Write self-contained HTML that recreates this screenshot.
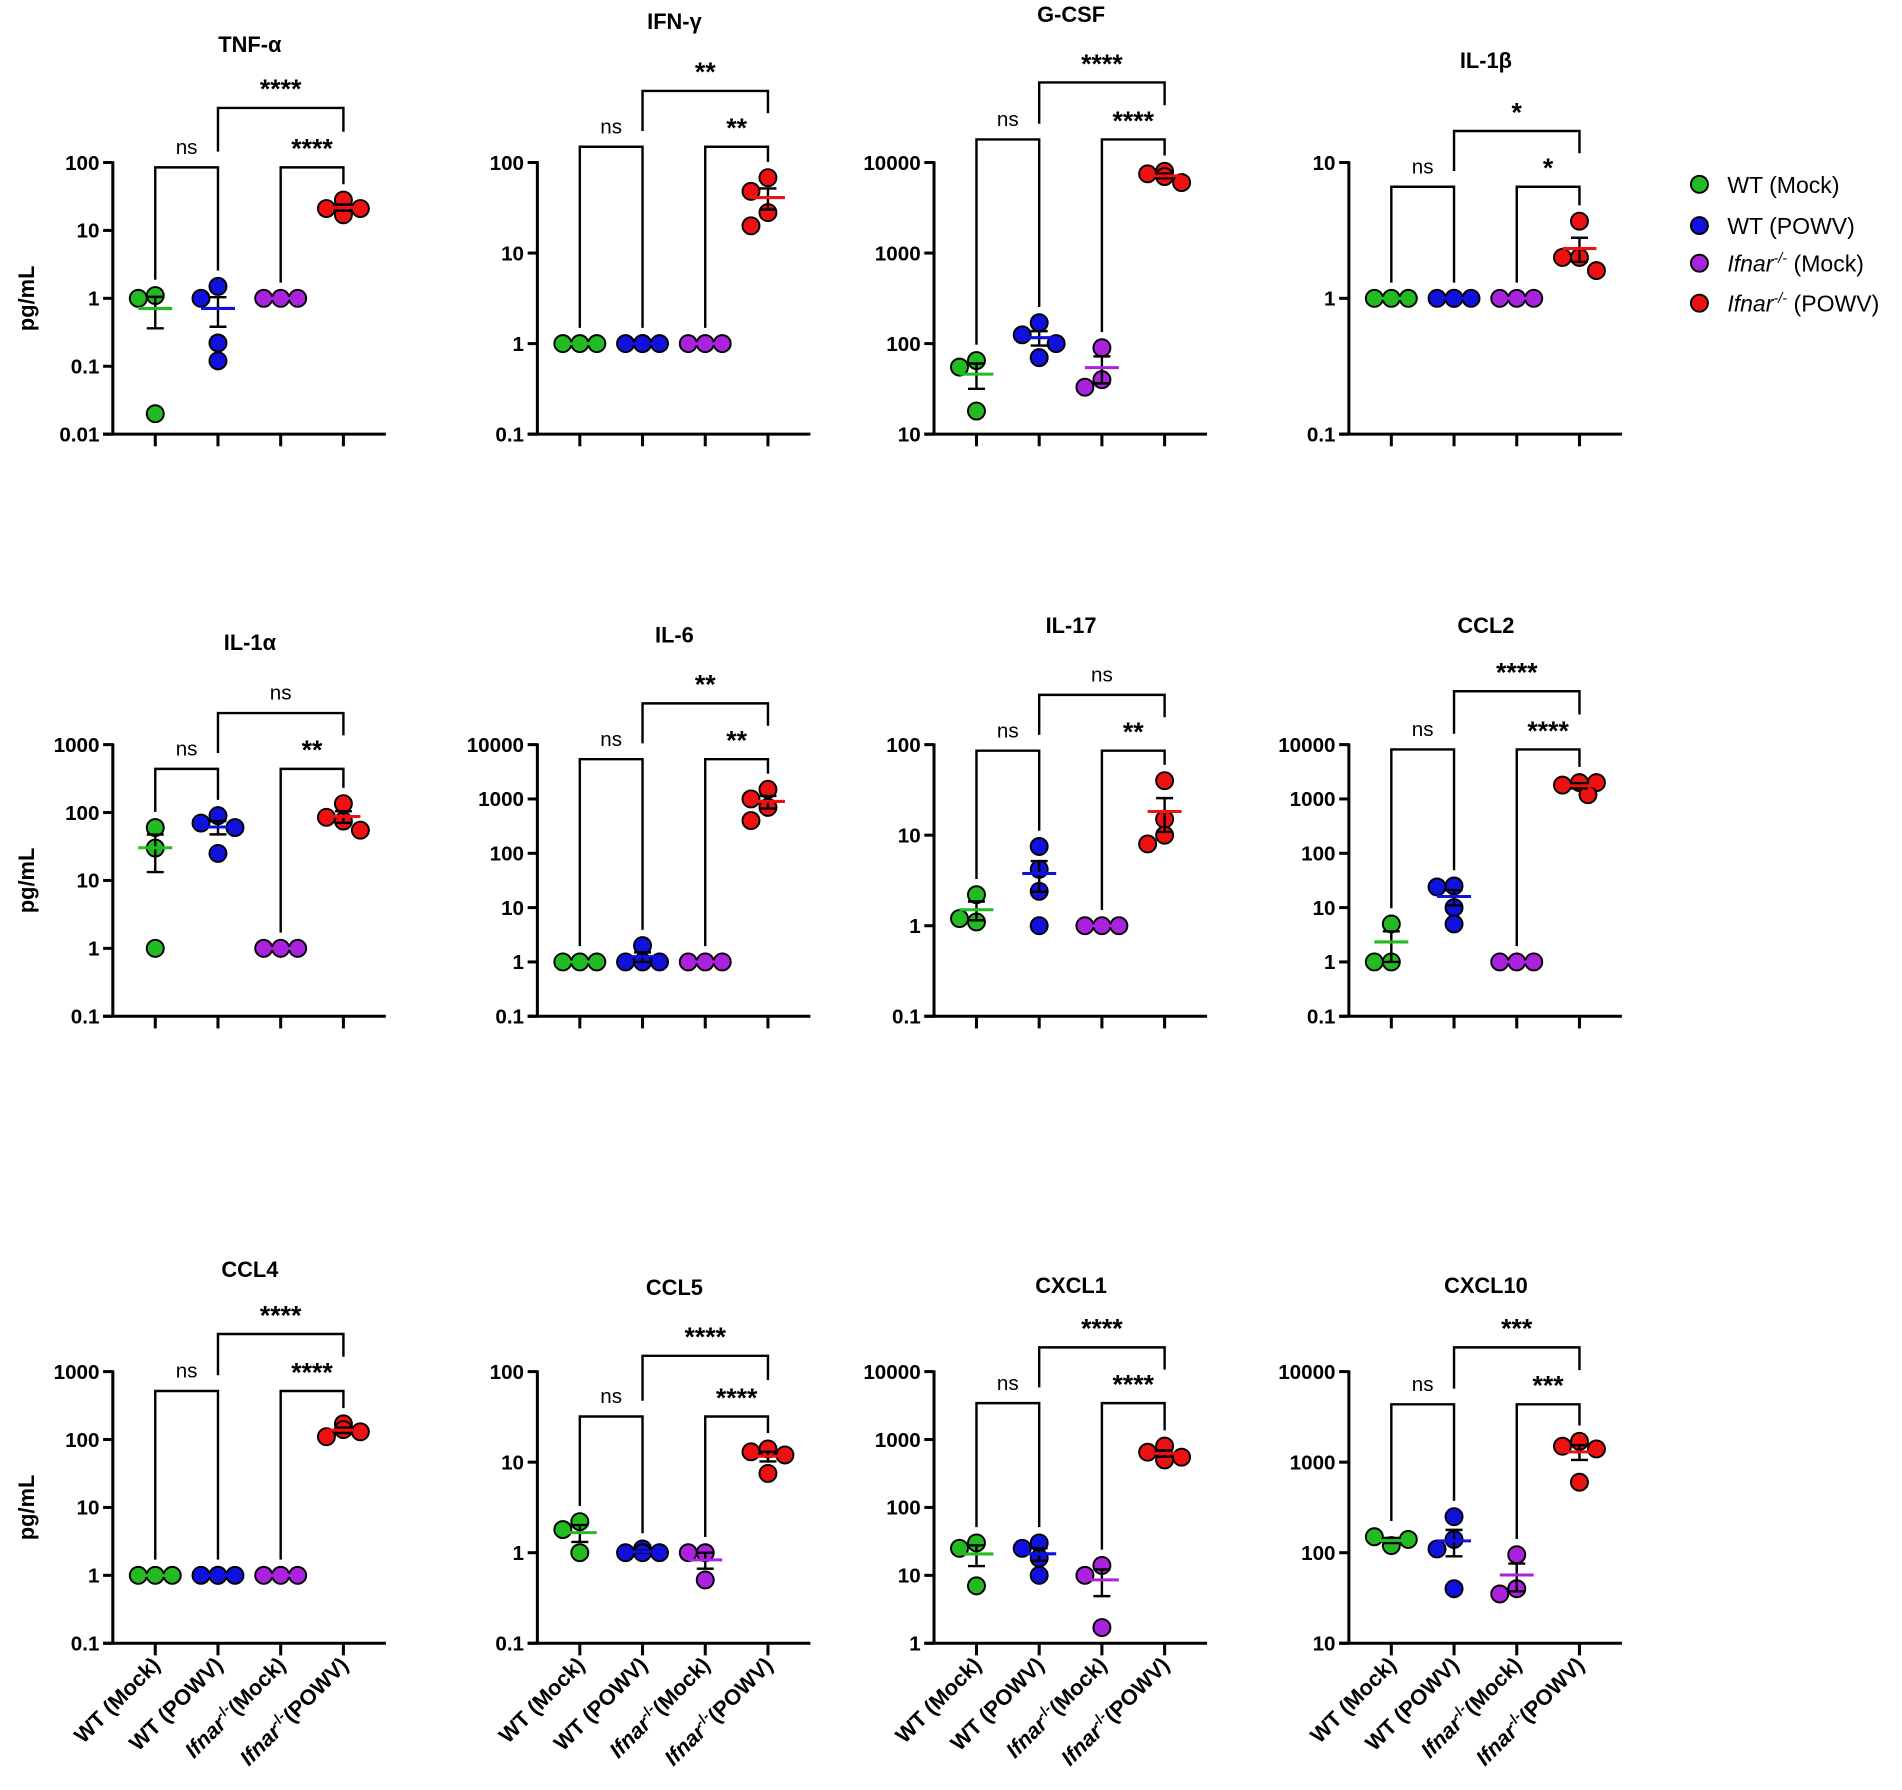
<!DOCTYPE html>
<html><head><meta charset="utf-8"><style>
html,body{margin:0;padding:0;background:#fff;}
svg{display:block;font-family:"Liberation Sans",Arial,sans-serif;}
</style></head><body>
<svg id="fig" width="1902" height="1790" viewBox="0 0 1568 1476" preserveAspectRatio="none" xmlns="http://www.w3.org/2000/svg"></svg>
<script>
// ---- data ----
const panelTitles = ["TNF-α","IFN-γ","G-CSF","IL-1β","IL-1α","IL-6","IL-17","CCL2","CCL4","CCL5","CXCL1","CXCL10"];
const logMin = [-2,-1,1,-1, -1,-1,-1,-1, -1,-1,0,1];
const logMax = [2,2,4,1, 3,4,2,4, 3,2,4,4];
const wtMock = [[1.1,1.0,0.02],[1,1,1],[65,55,18],[1,1,1],[60,30,1],[1,1,1],[2.2,1.1,1.2],[5,1,1],[1,1,1],[2.2,1.8,1],[30,25,7],[120,150,140]];
const wtPowv = [[1.5,1.0,0.22,0.12],[1,1,1,1],[170,125,70,100],[1,1,1,1],[90,70,60,25],[2,1,1,1],[7.5,4.2,2.4,1],[25,24,10,5],[1,1,1,1],[1.1,1,1,1],[30,25,18,10],[250,140,110,40]];
const koMock = [[1,1,1],[1,1,1],[90,40,33],[1,1,1],[1,1,1],[1,1,1],[1,1,1],[1,1,1],[1,1,1],[1,1,0.5],[14,10,1.7],[95,40,35]];
const koPowv = [[28,17,21,21],[68,48,28,20],[8000,7500,6000,7000],[3.7,2.0,2.0,1.6],[135,85,75,55],[1500,1000,700,400],[40,15,10,8],[2000,1800,2000,1200],[170,110,130,140],[14,13,12,7.5],[800,650,550,500],[1700,1500,1400,600]];
const sigNs = ["ns","ns","ns","ns","ns","ns","ns","ns","ns","ns","ns","ns"];
const sigOuter = ["****","**","****","*","ns","**","ns","****","****","****","****","***"];
const sigInner = ["****","**","****","*","**","**","**","****","****","****","****","***"];
const groupNames = ["WT (Mock)","WT (POWV)","Ifnar-/-(Mock)","Ifnar-/-(POWV)"];
// ---- layout ----
const colX = [93,443,770,1112];
const rowBottom = [358,838,1355];
const titleY = [37,18,12,50, 530,524,516,516, 1047,1062,1060,1060];
const bracketLow = [138,121,115,154, 634,626,619,618, 1147,1168,1157,1158];
const bracketHigh = [89,75,68,108, 588,580,573,570, 1100,1118,1111,1111];
const colors = ["#22bb22","#1111dd","#aa22dd","#ee1111"];
const H = 224, R = 7, STEP = 51.7;
const NS = "http://www.w3.org/2000/svg";
const svg = document.getElementById('fig');
function mk(tag, attrs, parent){const e=document.createElementNS(NS,tag);for(const k in attrs)e.setAttribute(k,attrs[k]);(parent||svg).appendChild(e);return e;}

function drawPanel(p){
  const row = Math.floor(p/4), col = p%4;
  const ax = colX[col], bot = rowBottom[row], top = bot - H;
  const lo = logMin[p], hi = logMax[p];
  const y = v => bot - (Math.log10(v)-lo)/(hi-lo)*H;
  const xg = i => ax + 35 + i*STEP;
  const g = mk('g',{});
  
  
  const t = mk('text',{x:ax+113,y:titleY[p]+6,'text-anchor':'middle','font-size':18,'font-weight':'bold'},g);
  t.textContent = panelTitles[p];
  
  
  const ya = mk('line',{x1:ax,y1:top-1,x2:ax,y2:bot,stroke:'#000','stroke-width':2.5},g);
  
  
  const xa = mk('line',{x1:ax-8,y1:bot,x2:xg(3)+35,y2:bot,stroke:'#000','stroke-width':2.5},g);
  
  
  for(let k=lo;k<=hi;k++){
    const yy = bot-(k-lo)/(hi-lo)*H;
    mk('line',{x1:ax-8,y1:yy,x2:ax,y2:yy,stroke:'#000','stroke-width':2.5},g);
    const lb = mk('text',{x:ax-11,y:yy+6,'text-anchor':'end','font-size':17,'font-weight':'bold'},g);
    lb.textContent = k<0 ? (Math.pow(10,k)).toFixed(-k) : String(Math.pow(10,k));
    
    
  }
  for(let i=0;i<4;i++) mk('line',{x1:xg(i),y1:bot,x2:xg(i),y2:bot+10,stroke:'#000','stroke-width':2.5},g);
  if(col===0){
    const yl = mk('text',{x:0,y:0,transform:`translate(28,${(top+bot)/2}) rotate(-90)`,'text-anchor':'middle','font-size':18,'font-weight':'bold'},g);
    yl.textContent = 'pg/mL';
    
    
  }
  const groups = [wtMock[p],wtPowv[p],koMock[p],koPowv[p]];
  const tops = [];
  groups.forEach((vals,gi)=>{
    const placed=[];
    const cands=[0,-14,14,-7,7,-21,21];
    vals.forEach(v=>{
      const py=y(v);
      let dx=0;
      for(const c of cands){ if(placed.every(q=>Math.hypot(q[0]-c,q[1]-py)>=12)){dx=c;break;} }
      placed.push([dx,py]);
    });
    placed.forEach(q=>{
      const c = mk('circle',{cx:xg(gi)+q[0],cy:q[1],r:R,fill:colors[gi],stroke:'#000','stroke-width':1.6},g);
      
      
    });
    tops.push(Math.min(...placed.map(q=>q[1])) - R - 6);
    const n=vals.length, mean=vals.reduce((a,b)=>a+b,0)/n;
    const sd=Math.sqrt(vals.reduce((a,b)=>a+(b-mean)*(b-mean),0)/(n-1));
    const sem=sd/Math.sqrt(n);
    if(sem>1e-9){
      const y1=y(mean+sem), y2=y(Math.max(mean-sem,Math.pow(10,lo)*1.0001));
      mk('line',{x1:xg(gi),y1:y1,x2:xg(gi),y2:y2,stroke:'#000','stroke-width':2},g);
      mk('line',{x1:xg(gi)-7,y1:y1,x2:xg(gi)+7,y2:y1,stroke:'#000','stroke-width':2},g);
      mk('line',{x1:xg(gi)-7,y1:y2,x2:xg(gi)+7,y2:y2,stroke:'#000','stroke-width':2},g);
    }
    const ml = mk('line',{x1:xg(gi)-14,y1:y(mean),x2:xg(gi)+14,y2:y(mean),stroke:colors[gi],'stroke-width':2.5},g);
    
    
  });
  const yl = bracketLow[p], yh = bracketHigh[p];
  function br(xa1,ya1,xb,yb1,yb,label){
    const pl = mk('polyline',{points:`${xa1},${ya1} ${xa1},${yb} ${xb},${yb} ${xb},${yb1}`,fill:'none',stroke:'#000','stroke-width':2},g);
    
    
    const isNs = label==='ns';
    const tx = mk('text',{x:(xa1+xb)/2,y:yb-(isNs?11:8),'text-anchor':'middle','font-size':isNs?17:22,'font-weight':isNs?'normal':'bold'},g);
    tx.textContent = label;
    
    
  }
  br(xg(0),tops[0],xg(1),tops[1],yl,sigNs[p]);
  br(xg(2),tops[2],xg(3),tops[3],yl,sigInner[p]);
  br(xg(1),yl-13,xg(3),yh+0.4*(yl-yh),yh,sigOuter[p]);
  if(row===2){
    groupNames.forEach((nm,i)=>{
      const tx = mk('text',{x:0,y:0,transform:`translate(${xg(i)+5},${bot+19}) rotate(-45)`,'text-anchor':'end','font-size':18,'font-weight':'bold'},g);
      
      
      if(nm.startsWith('Ifnar')){
        const a=mk('tspan',{'font-style':'italic'},tx); a.textContent='Ifnar';
        const b=mk('tspan',{'font-size':12,dy:-7},tx); b.textContent='-/-';
        const c=mk('tspan',{dy:7},tx); c.textContent=nm.slice(8);
      } else tx.textContent = nm;
    });
  }
}
for(let p=0;p<12;p++) drawPanel(p);
const leg = mk('g',{});


const legY=[152,186,217,250];
const legNames=["WT (Mock)","WT (POWV)","Ifnar-/- (Mock)","Ifnar-/- (POWV)"];
legNames.forEach((nm,i)=>{
  const e = mk('g',{},leg);
  
  
  mk('circle',{cx:1401,cy:legY[i],r:7,fill:colors[i],stroke:'#000','stroke-width':1.6},e);
  const tx = mk('text',{x:1424,y:legY[i]+7,'font-size':19},e);
  if(nm.startsWith('Ifnar')){
    const a=mk('tspan',{'font-style':'italic'},tx); a.textContent='Ifnar';
    const b=mk('tspan',{'font-size':12,dy:-7,'font-style':'italic'},tx); b.textContent='-/-';
    const c=mk('tspan',{dy:7},tx); c.textContent=nm.slice(8);
  } else tx.textContent=nm;
});
</script>
</body></html>
